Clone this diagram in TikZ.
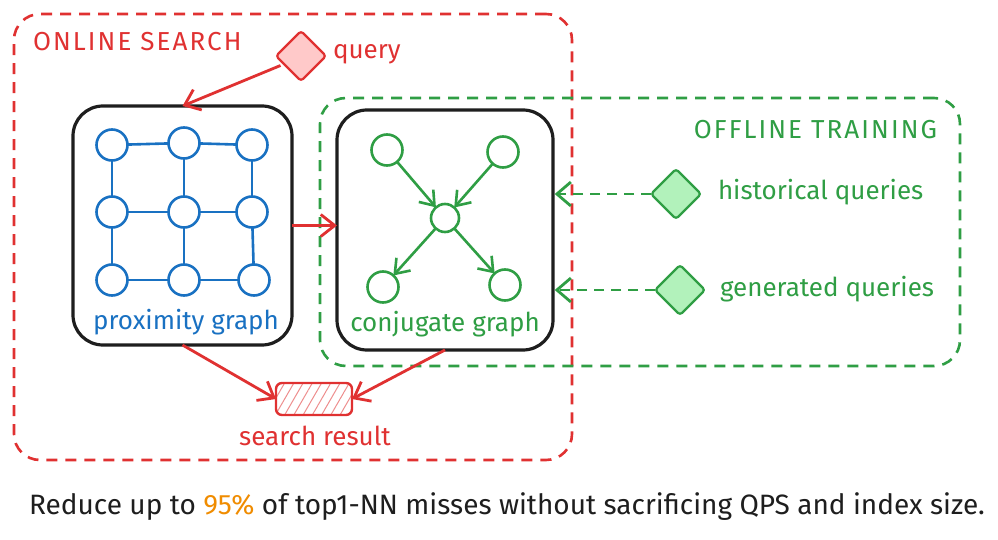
\documentclass[tikz,border=0pt]{standalone}
\usepackage{fontspec}
\setmainfont{Fira Sans}
\usetikzlibrary{arrows.meta,shapes.geometric,patterns.meta}
\definecolor{cred}{HTML}{E03131}
\definecolor{credfill}{HTML}{FFC9C9}
\definecolor{cgreen}{HTML}{2F9E44}
\definecolor{cgreenfill}{HTML}{B2F2BB}
\definecolor{cblue}{HTML}{1971C2}
\definecolor{corange}{HTML}{F08C00}
\definecolor{cink}{HTML}{1E1E1E}
\begin{document}
\begin{tikzpicture}[x=1pt,y=-1pt,
  every node/.style={font=\fontsize{26}{30}\selectfont, inner sep=0pt, outer sep=0pt},
  capslabel/.style={font=\fontsize{26}{30}\selectfont\addfontfeature{LetterSpace=8}},
  frame/.style={draw, line width=2.6pt, dash pattern=on 11pt off 8pt, rounded corners=26pt, rectangle},
  graphbox/.style={draw=cink, line width=3.2pt, rounded corners=30pt, rectangle, fill=white},
  bnode/.style={circle, draw=cblue, line width=2.6pt, minimum size=31pt, fill=white},
  gnode/.style={circle, draw=cgreen, line width=2.6pt, minimum size=31pt, fill=white},
  bedge/.style={draw=cblue, line width=2.6pt},
  garrow/.style={draw=cgreen, line width=2.6pt, -{Straight Barb[length=13pt,width=19pt,line width=2.6pt]}},
  rarrow/.style={draw=cred, line width=2.8pt, -{Straight Barb[length=14pt,width=22pt,line width=2.8pt]}},
  gdarrow/.style={draw=cgreen, line width=2.8pt, dash pattern=on 10pt off 7pt, -{Straight Barb[length=14pt,width=24pt,line width=2.8pt,sep]}},
  qdiamond/.style={diamond, aspect=1, line width=2.2pt, rounded corners=3pt, minimum size=50pt},
]
\useasboundingbox (0,0) rectangle (998,540);
\fill[white] (0,0) rectangle (998,540);

% frames
\node[frame, draw=cred, minimum width=558pt, minimum height=446pt] (online) at (293,237) {};
\node[frame, draw=cgreen, minimum width=640pt, minimum height=268pt] (offline) at (640,232) {};

\node[capslabel, anchor=west, text=cred] (onlinelabel) at (33,42) {ONLINE SEARCH};
\node[capslabel, anchor=east, text=cgreen] (offlinelabel) at (937,130) {OFFLINE TRAINING};

% graph boxes
\node[graphbox, minimum width=219pt, minimum height=239pt] (prox) at (182.5,225.5) {};
\node[graphbox, minimum width=216pt, minimum height=240pt] (conj) at (445,230) {};

% proximity graph
\node[bnode] (p11) at (112,145) {};
\node[bnode] (p12) at (184,143) {};
\node[bnode] (p13) at (252,145) {};
\node[bnode] (p21) at (112,212) {};
\node[bnode] (p22) at (184,212) {};
\node[bnode] (p23) at (252,212) {};
\node[bnode] (p31) at (112,280) {};
\node[bnode] (p32) at (184,280) {};
\node[bnode] (p33) at (254,280) {};
\foreach \a/\b in {p11/p12,p12/p13,p21/p22,p22/p23,p31/p32,p32/p33,p11/p21,p21/p31,p12/p22,p22/p32,p13/p23,p23/p33}
  \draw[bedge] (\a) -- (\b);
\node[text=cblue] (proxlabel) at (186,322) {proximity graph};

% conjugate graph
\node[gnode] (c1) at (387,150) {};
\node[gnode] (c2) at (503,152) {};
\node[gnode, minimum size=28pt] (c0) at (445,218) {};
\node[gnode] (c3) at (383,287) {};
\node[gnode] (c4) at (505,285) {};
\draw[garrow] (c1) -- (c0);
\draw[garrow] (c2) -- (c0);
\draw[garrow] (c0) -- (c3);
\draw[garrow] (c0) -- (c4);
\node[text=cgreen] (conjlabel) at (445,324) {conjugate graph};

% query
\node[qdiamond, draw=cred, fill=credfill] (query) at (301,56) {};
\node[anchor=west, text=cred] (querylabel) at (333,54) {query};
\draw[rarrow] ([xshift=-8pt,yshift=3pt]query.south west) -- (prox.north);

% prox -> conj
\draw[rarrow] (prox.east) -- (prox.east -| conj.west);

% offline inputs
\node[qdiamond, draw=cgreen, fill=cgreenfill, minimum size=50pt] (hist) at (676,194) {};
\node[anchor=west, text=cgreen] (histlabel) at (718,192) {historical queries};
\node[qdiamond, draw=cgreen, fill=cgreenfill, minimum size=50pt] (gen) at (680,290) {};
\node[anchor=west, text=cgreen] (genlabel) at (720,289) {generated queries};
\draw[gdarrow] (hist.west) -- (hist.west -| conj.east);
\draw[gdarrow] (gen.west) -- (gen.west -| conj.east);

% search result
\node[rectangle, draw=cred, line width=2.4pt, rounded corners=6pt, minimum width=76pt, minimum height=32pt,
      pattern={Lines[angle=60,distance=8pt,line width=1pt]}, pattern color=cred!55] (res) at (314,399) {};
\node[text=cred] (reslabel) at (315,436) {search result};
\draw[rarrow] (prox.south) -- (res.west);
\draw[rarrow] (conj.south) -- (res.east);

% caption
\node[font=\fontsize{28}{32}\selectfont, text=cink] (caption) at (507,507) {Reduce up to \textcolor{corange}{95\%} of top1-NN misses without sacrificing QPS and index size.};
\end{tikzpicture}
\end{document}
